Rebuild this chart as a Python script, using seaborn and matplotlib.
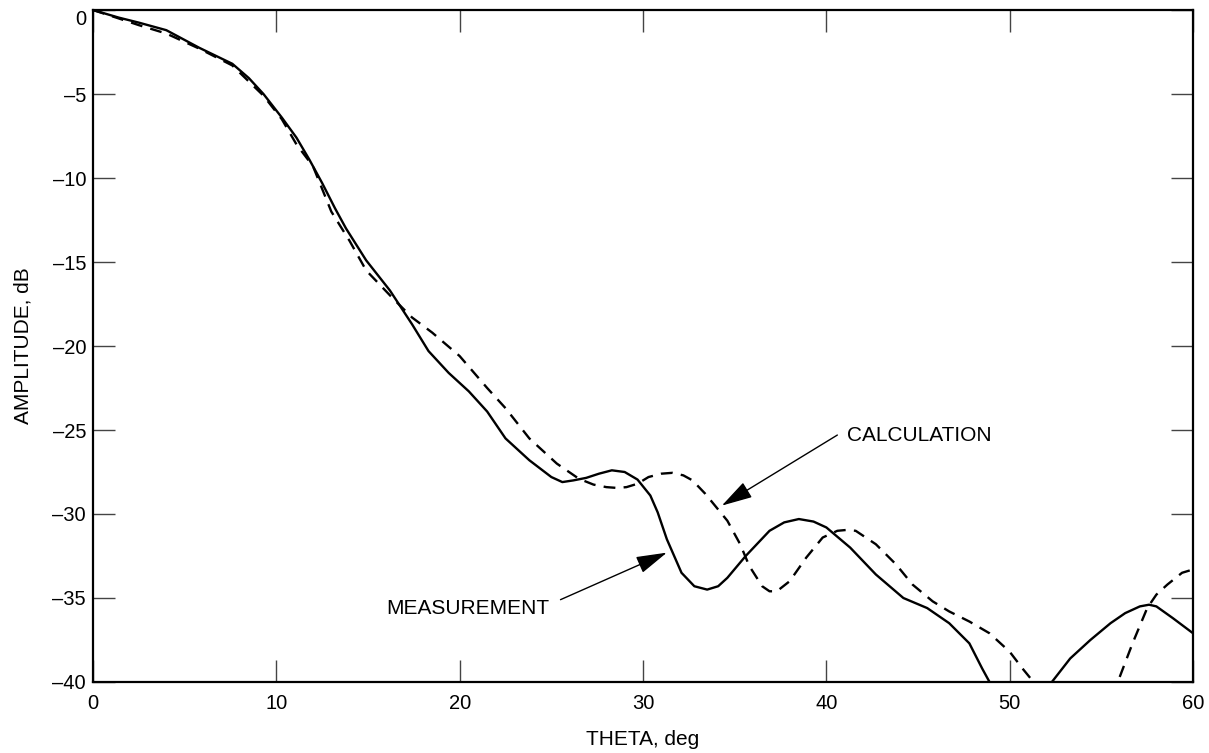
import numpy as np
import pandas as pd
import matplotlib
matplotlib.use("Agg")
import matplotlib.pyplot as plt
import seaborn as sns

# ---- data ----
meas_theta_1 = [0, 1.4, 2.5, 4.0, 5.8, 7.6, 8.5, 9.3, 10.3, 11.1, 11.8, 12.5, 13.2, 13.8,
                14.9, 16.2, 17.4, 18.3, 19.4, 20.5, 21.5, 22.5, 23.8, 25.0, 25.6, 26.2, 26.9,
                27.6, 28.3, 29.0, 29.7, 30.4, 30.8, 31.3, 32.1, 32.8, 33.5, 34.1, 34.6, 35.6,
                36.9, 37.7, 38.5, 39.3, 40.0, 41.3, 42.7, 44.2, 45.5, 46.7, 47.8, 48.5, 48.9]
meas_amp_1 = [0, -0.45, -0.75, -1.2, -2.25, -3.2, -4.05, -5.0, -6.4, -7.6, -8.9, -10.3, -11.8, -13.0,
              -14.9, -16.7, -18.7, -20.3, -21.6, -22.7, -23.9, -25.5, -26.8, -27.8, -28.1, -28.0, -27.85,
              -27.6, -27.4, -27.5, -27.95, -28.9, -29.9, -31.5, -33.5, -34.3, -34.5, -34.3, -33.8, -32.5,
              -31.0, -30.5, -30.3, -30.45, -30.8, -32.0, -33.6, -35.0, -35.6, -36.5, -37.7, -39.2, -40.0]
meas_theta_2 = [52.3, 53.3, 54.4, 55.5, 56.3, 57.1, 57.6, 58.0, 58.9, 60.0]
meas_amp_2 = [-40.0, -38.6, -37.5, -36.5, -35.9, -35.5, -35.4, -35.5, -36.2, -37.1]

calc_theta_1 = [0, 1.4, 2.5, 4.0, 5.8, 7.6, 9.3, 10.3, 11.1, 12.0, 13.0, 14.0, 14.9, 16.3,
                17.4, 18.5, 20.0, 21.5, 22.5, 23.8, 25.3, 26.5, 27.3, 28.0, 28.6, 29.1, 29.7,
                30.3, 31.0, 31.6, 32.2, 32.7, 33.4, 34.0, 34.6, 35.3, 35.8, 36.5, 36.9, 37.3,
                38.0, 38.9, 39.8, 40.6, 41.1, 41.6, 42.7, 43.8, 44.7, 45.8, 46.7, 47.8, 48.9,
                50.0, 50.7, 51.3]
calc_amp_1 = [0, -0.5, -0.9, -1.4, -2.3, -3.3, -5.1, -6.5, -8.0, -9.3, -12.0, -13.75, -15.5, -17.1,
              -18.3, -19.2, -20.6, -22.5, -23.7, -25.5, -27.0, -27.9, -28.25, -28.4, -28.45, -28.4, -28.2,
              -27.8, -27.6, -27.55, -27.7, -28.0, -28.8, -29.6, -30.4, -31.8, -33.1, -34.3, -34.6, -34.6,
              -34.0, -32.6, -31.4, -31.0, -30.95, -31.0, -31.8, -33.0, -34.2, -35.2, -35.8, -36.4, -37.1,
              -38.2, -39.2, -40.0]
calc_theta_2 = [56.0, 56.7, 57.5, 58.0, 58.6, 59.4, 60.0]
calc_amp_2 = [-39.7, -37.7, -35.6, -34.8, -34.2, -33.5, -33.3]

x_ticks = [0, 10, 20, 30, 40, 50, 60]
y_ticks = [0, -5, -10, -15, -20, -25, -30, -35, -40]
y_tick_labels = ["0", "–5", "–10", "–15", "–20", "–25", "–30", "–35", "–40"]

frames = []
for th, am, name, seg in [(meas_theta_1, meas_amp_1, "MEASUREMENT", "m1"),
                          (meas_theta_2, meas_amp_2, "MEASUREMENT", "m2"),
                          (calc_theta_1, calc_amp_1, "CALCULATION", "c1"),
                          (calc_theta_2, calc_amp_2, "CALCULATION", "c2")]:
    frames.append(pd.DataFrame({"theta": th, "amp": am, "series": name, "seg": seg}))
df = pd.concat(frames, ignore_index=True)

sns.set_style("white")
plt.rcParams['font.family'] = ['Liberation Sans', 'DejaVu Sans']
plt.rcParams['text.color'] = 'black'
plt.rcParams['axes.labelcolor'] = 'black'

fig = plt.figure(figsize=(12.09, 7.53), dpi=100)
ax = fig.add_axes([0.0769, 0.0943, 0.9099, 0.8924])

sns.lineplot(data=df, x="theta", y="amp", hue="series", style="series", units="seg",
             estimator=None, sort=False,
             palette={"MEASUREMENT": "black", "CALCULATION": "black"},
             dashes={"MEASUREMENT": "", "CALCULATION": (5, 3.5)},
             linewidth=1.7, legend=False, ax=ax)

ax.set_xlim(0, 60)
ax.set_ylim(-40, 0)
ax.set_xticks(x_ticks)
ax.set_yticks(y_ticks)
ax.set_yticklabels(y_tick_labels)
ax.tick_params(axis="both", which="both", direction="in", length=16, width=1.0,
               color="#444444", labelsize=14.5, labelcolor="black",
               top=True, right=True, bottom=True, left=True,
               labeltop=False, labelright=False)
ax.tick_params(axis="x", pad=9)
ax.tick_params(axis="y", pad=5)
for lab in ax.get_yticklabels():
    if lab.get_text() == "0":
        lab.set_va("top")

for sp in ax.spines.values():
    sp.set_visible(True)
    sp.set_color("black")
    sp.set_linewidth(1.6)

ax.set_xlabel("THETA, deg", fontsize=15, labelpad=12, color="black")
ax.set_ylabel("AMPLITUDE, dB", fontsize=15, labelpad=14, color="black")

arrow_kw = dict(arrowstyle="-|>,head_length=1.6,head_width=0.45", color="black",
                lw=1.0, shrinkA=0, shrinkB=0, mutation_scale=12)
ax.annotate("", xy=(34.3, -29.5), xytext=(40.6, -25.3), arrowprops=arrow_kw)
ax.text(41.1, -25.3, "CALCULATION", fontsize=15, ha="left", va="center", color="black")
ax.annotate("", xy=(31.3, -32.3), xytext=(25.5, -35.1), arrowprops=arrow_kw)
ax.text(24.9, -35.6, "MEASUREMENT", fontsize=15, ha="right", va="center", color="black")

fig.savefig("out.png", dpi=100)
